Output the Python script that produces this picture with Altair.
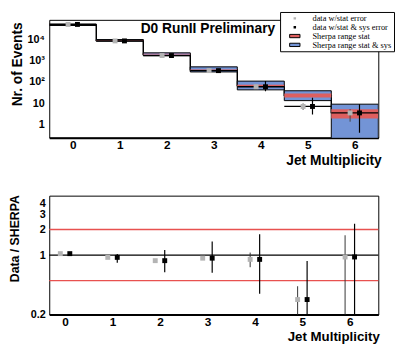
import altair as alt
import pandas as pd

# ---------------- data ----------------
bins = [0, 1, 2, 3, 4, 5, 6]
sherpa = [47000, 8800, 2000, 370, 68, 24, 3.8]
stat_lo = [45500, 8500, 1900, 355, 62, 19, 2.0]
stat_hi = [48500, 9100, 2100, 385, 75, 29, 5.4]
tot_lo = [43500, 8000, 1700, 295, 43, 13.5, 0.1]
tot_hi = [50500, 9600, 2300, 510, 110, 39, 9.2]

data_val = [48900, 8300, 1720, 340, 60, 7.2, 3.6]
sys_err_lo = [47500, 7800, 1500, 295, 37, 3.0, 0.43]
sys_err_hi = [50300, 8800, 1950, 400, 112, 18.6, 9.2]
stat_err_lo = [48300, 8200, 1700, 330, 55, 5.0, 1.4]
stat_err_hi = [49500, 8400, 1740, 350, 66, 10.0, 5.4]

ratio_val = [1.04, 0.94, 0.86, 0.92, 0.89, 0.30, 0.95]
ratio_stat_lo = [1.03, 0.93, 0.85, 0.89, 0.72, 0.1, 0.1]
ratio_stat_hi = [1.05, 0.95, 0.87, 0.95, 1.07, 0.43, 1.71]
ratio_sys_lo = [1.01, 0.81, 0.63, 0.62, 0.35, 0.1, 0.1]
ratio_sys_hi = [1.07, 1.03, 1.15, 1.44, 1.76, 0.85, 2.33]

ref_black = [1.0]
ref_red = [0.5, 2.0]

top_y_ticks = [1, 10, 100, 1000, 10000]
bot_y_ticks = [0.2, 1, 2, 3, 4]

legend_entries = ["data w/stat error", "data w/stat & sys error",
                  "Sherpa range stat", "Sherpa range stat & sys"]
annotation = ["D0 RunII Preliminary"]

# ---------------- style ----------------
FONT = "Liberation Sans"
GRAY = "#b4b4b4"
RED = "#de5f5f"
BLUE = "#7394d6"
REDLINE = "#e8514f"

top_df = pd.DataFrame(dict(bin=bins, sherpa=sherpa, stat_lo=stat_lo, stat_hi=stat_hi,
                           tot_lo=tot_lo, tot_hi=tot_hi, data=data_val,
                           sys_lo=sys_err_lo, sys_hi=sys_err_hi,
                           st_lo=stat_err_lo, st_hi=stat_err_hi))
bot_df = pd.DataFrame(dict(bin=bins, r=ratio_val, st_lo=ratio_stat_lo, st_hi=ratio_stat_hi,
                           sy_lo=ratio_sys_lo, sy_hi=ratio_sys_hi))

xs_top = alt.Scale(domain=[-0.5, 6.5], nice=False, zero=False)
ys_top = alt.Scale(type="log", domain=[0.25, 80000], nice=False)
xs_bot = alt.Scale(domain=[-0.333, 6.6], nice=False, zero=False)
ys_bot = alt.Scale(type="log", domain=[0.2, 5], nice=False)

x_axis_top = alt.Axis(values=bins, format="d", title="Jet Multiplicity", labelFontSize=12,
                      titleFontSize=14, labelPadding=2, ticks=False, grid=False,
                      domainWidth=2, domainColor="black", titleAnchor="end",
                      titleAlign="right", titleBaseline="top", titleX=338, titleY=16)
y_axis_top = alt.Axis(values=top_y_ticks,
                      labelExpr="datum.value == 1 ? '1' : datum.value == 10 ? '10' : datum.value == 100 ? '10\u00b2' : datum.value == 1000 ? '10\u00b3' : '10\u2074'",
                      title="Nr. of Events", labelFontSize=11, titleFontSize=14,
                      labelPadding=5, ticks=False, grid=False, domain=False, labelOverlap=False,
                      titleAlign="right", titleBaseline="bottom", titleX=-25, titleY=2)
x_axis_bot = alt.Axis(values=bins, format="d", title="Jet Multiplicity", labelFontSize=12,
                      titleFontSize=13.5, labelPadding=2, ticks=False, grid=False,
                      domainWidth=2, domainColor="black", titleAnchor="end",
                      titleAlign="right", titleBaseline="top", titleX=336, titleY=15)
y_axis_bot = alt.Axis(values=bot_y_ticks, format="~g", title="Data / SHERPA",
                      labelFontSize=11, titleFontSize=12.5, labelPadding=4, ticks=False,
                      grid=False, domain=False, labelOverlap=False, labelBound=False,
                      titleAlign="right", titleBaseline="bottom", titleX=-28, titleY=-1)


def XT(f):
    return alt.X(f, type="quantitative", scale=xs_top, axis=x_axis_top)


def YT(f):
    return alt.Y(f, type="quantitative", scale=ys_top, axis=y_axis_top)


def XB(f):
    return alt.X(f, type="quantitative", scale=xs_bot, axis=x_axis_bot)


def YB(f):
    return alt.Y(f, type="quantitative", scale=ys_bot, axis=y_axis_bot)


tb = alt.Chart(top_df).transform_calculate(
    xlo="datum.bin - 0.5", xhi="datum.bin + 0.5", xg="datum.bin - 0.1", xb="datum.bin + 0.1")

step = tb.mark_line(interpolate="step", color="black", strokeWidth=1.5, clip=True).encode(
    x=XT("bin"), y=YT("sherpa"))
blue = tb.mark_rect(fill=BLUE, stroke="black", strokeWidth=1, clip=True).encode(
    x=XT("xlo"), x2="xhi", y=YT("tot_lo"), y2="tot_hi")
red = tb.mark_rect(fill=RED, clip=True).encode(
    x=XT("xlo"), x2="xhi", y=YT("stat_lo"), y2="stat_hi")
hbar = tb.mark_rule(color="black", strokeWidth=1.3, clip=True).encode(
    x=XT("xlo"), x2="xhi", y=YT("data"))
gerr = tb.mark_rule(color="#444444", strokeWidth=1, clip=True).encode(
    x=XT("xg"), y=YT("st_lo"), y2="st_hi")
berr = tb.mark_rule(color="black", strokeWidth=1.2, clip=True).encode(
    x=XT("xb"), y=YT("sys_lo"), y2="sys_hi")
gpt = tb.mark_square(color=GRAY, size=25, opacity=1).encode(x=XT("xg"), y=YT("data"))
bpt = tb.mark_square(color="black", size=25, opacity=1).encode(x=XT("xb"), y=YT("data"))

text = alt.Chart(pd.DataFrame({"t": annotation})).mark_text(
    font=FONT, fontWeight="bold", fontSize=14, align="right", baseline="middle",
    color="black").encode(x=alt.value(230), y=alt.value(9), text="t:N")

leg_common = dict(orient="none", legendX=235, legendY=-8, title=None, symbolSize=441,
                  clipHeight=9, rowPadding=0, padding=2, symbolOffset=2, labelOffset=7,
                  labelFont="Liberation Sans Narrow", labelFontSize=8.5, labelColor="black",
                  fillColor="white", strokeColor="black", symbolStrokeWidth=1, labelLimit=300)
square_path = "M-0.12,-0.12H0.12V0.12H-0.12Z"
rect_path = "M-0.5,-0.16H0.5V0.16H-0.5Z"
legend_layer = alt.Chart(pd.DataFrame({"entry": legend_entries})).transform_filter(
    "datum.entry == 'none'").mark_point(filled=True, opacity=1).encode(
    fill=alt.Fill("entry:N", scale=alt.Scale(domain=legend_entries,
                                             range=[GRAY, "black", RED, BLUE]),
                  legend=alt.Legend(**leg_common)),
    stroke=alt.Stroke("entry:N", scale=alt.Scale(domain=legend_entries,
                                                 range=["transparent", "transparent", "black", "black"]),
                      legend=alt.Legend(**leg_common)),
    shape=alt.Shape("entry:N", scale=alt.Scale(domain=legend_entries,
                                               range=[square_path, square_path, rect_path, rect_path]),
                    legend=alt.Legend(**leg_common)),
)

top = alt.layer(step, blue, red, hbar, gerr, berr, gpt, bpt, text, legend_layer).properties(
    width=335, height=120)

bb = alt.Chart(bot_df).transform_calculate(xg="datum.bin - 0.1", xb="datum.bin + 0.1")
red_lines = alt.Chart(pd.DataFrame({"v": ref_red})).mark_rule(
    color=REDLINE, strokeWidth=1.4).encode(y=YB("v"))
one_line = alt.Chart(pd.DataFrame({"v": ref_black})).mark_rule(
    color="black", strokeWidth=1.2).encode(y=YB("v"))
bgerr = bb.mark_rule(color="#333333", strokeWidth=1, clip=True).encode(
    x=XB("xg"), y=YB("st_lo"), y2="st_hi")
bberr = bb.mark_rule(color="black", strokeWidth=1.2, clip=True).encode(
    x=XB("xb"), y=YB("sy_lo"), y2="sy_hi")
bgpt = bb.mark_square(color=GRAY, size=25, opacity=1).encode(x=XB("xg"), y=YB("r"))
bbpt = bb.mark_square(color="black", size=25, opacity=1).encode(x=XB("xb"), y=YB("r"))

bottom = alt.layer(red_lines, one_line, bgerr, bberr, bgpt, bbpt).properties(width=335, height=121)

chart = alt.vconcat(top, bottom, spacing=59, bounds="flush").resolve_scale(
    fill="independent", stroke="independent", shape="independent"
).properties(
    padding={"left": 0, "top": 0, "right": 0, "bottom": 0},
    background="white",
).configure_view(stroke="black", strokeWidth=1).configure_axis(
    labelFont=FONT, titleFont=FONT, labelFontWeight="bold", titleFontWeight="bold",
    labelColor="black", titleColor="black")

chart.save("out.html", embed_options={"renderer": "svg", "actions": False})
